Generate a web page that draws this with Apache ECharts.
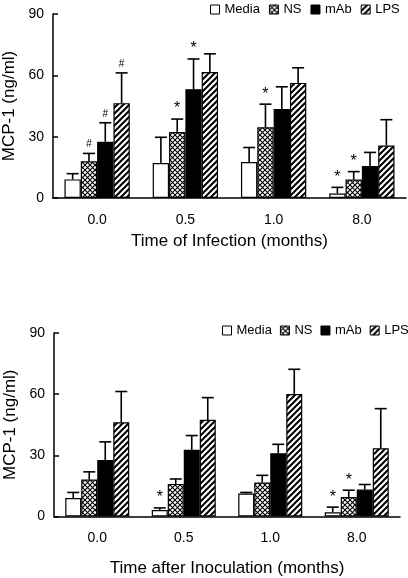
<!DOCTYPE html>
<html><head><meta charset="utf-8">
<script src="https://cdn.jsdelivr.net/npm/echarts@6/dist/echarts.min.js"></script>
<style>html,body{margin:0;padding:0;background:#fff}#c{width:408px;height:578px}</style>
</head><body><div id="c"></div>
<script>
// ---- data ----
const categories = ['0.0', '0.5', '1.0', '8.0'];
const seriesNames = ['Media', 'NS', 'mAb', 'LPS'];
const yTickValues = [0, 30, 60, 90];
const titleTop = 'Time of Infection (months)';
const titleBottom = 'Time after Inoculation (months)';
const yTitle = 'MCP-1 (ng/ml)';

// Top panel: Time of Infection
const infMedia = [9.1, 17.1, 17.6, 2.2];
const infMediaErr = [2.8, 12.6, 7.1, 3.0];
const infMediaSig = ['', '', '', '*'];
const infNS = [18.0, 32.3, 34.6, 9.0];
const infNSErr = [3.8, 6.3, 11.3, 3.9];
const infNSSig = ['#', '*', '*', '*'];
const infMAb = [27.5, 53.2, 43.5, 15.6];
const infMAbErr = [9.3, 14.8, 10.9, 6.7];
const infMAbSig = ['#', '*', '', ''];
const infLPS = [46.4, 61.6, 56.3, 25.7];
const infLPSErr = [14.8, 8.9, 7.4, 12.6];
const infLPSSig = ['#', '', '', ''];

// Bottom panel: Time after Inoculation
const inoMedia = [9.1, 3.2, 11.3, 2.1];
const inoMediaErr = [2.7, 1.0, 0.5, 2.5];
const inoMediaSig = ['', '*', '', '*'];
const inoNS = [18.1, 16.0, 16.7, 9.6];
const inoNSErr = [3.8, 2.4, 3.5, 3.3];
const inoNSSig = ['', '', '', '*'];
const inoMAb = [27.7, 32.7, 31.0, 13.2];
const inoMAbErr = [8.9, 7.0, 4.4, 2.5];
const inoMAbSig = ['', '', '', ''];
const inoLPS = [46.2, 47.4, 60.1, 33.5];
const inoLPSErr = [15.1, 10.9, 12.1, 19.4];
const inoLPSSig = ['', '', '', ''];

// ---- styles ----
const FONT = '"Liberation Sans", Arial, Helvetica, sans-serif';
const GAP_FRAC = 0.26;

function crossHatch() {
  const s = 5, c = document.createElement('canvas');
  c.width = c.height = s;
  const g = c.getContext('2d');
  g.fillStyle = '#fff'; g.fillRect(0, 0, s, s);
  g.strokeStyle = '#000'; g.lineWidth = 1.1;
  g.beginPath();
  g.moveTo(-1, -1); g.lineTo(s + 1, s + 1);
  g.moveTo(s + 1, -1); g.lineTo(-1, s + 1);
  g.stroke();
  return c;
}
function stripes() {
  const s = 6, c = document.createElement('canvas');
  c.width = c.height = s;
  const g = c.getContext('2d');
  g.fillStyle = '#fff'; g.fillRect(0, 0, s, s);
  g.strokeStyle = '#000'; g.lineWidth = 2;
  g.beginPath();
  g.moveTo(-1, s + 1); g.lineTo(s + 1, -1);
  g.moveTo(-1, 1); g.lineTo(1, -1);
  g.moveTo(s - 1, s + 1); g.lineTo(s + 1, s - 1);
  g.stroke();
  return c;
}
const fills = [
  '#ffffff',
  { image: crossHatch(), repeat: 'repeat' },
  '#000000',
  { image: stripes(), repeat: 'repeat' }
];

function barSeries(gi, k, vals) {
  return {
    type: 'bar', name: seriesNames[k], xAxisIndex: gi, yAxisIndex: gi,
    data: vals, barGap: 0, barCategoryGap: (GAP_FRAC * 100) + '%',
    itemStyle: { color: fills[k], borderColor: '#000', borderWidth: 1.2 },
    z: 2
  };
}
function errSeries(gi, k, vals, errs, marks) {
  return {
    type: 'custom', xAxisIndex: gi, yAxisIndex: gi, z: 3,
    data: vals.map((v, i) => [i, v, errs[i]]),
    renderItem: function (params, api) {
      const cat = api.value(0), v = api.value(1), e = api.value(2);
      const base = api.coord([cat, v]);
      const top = api.coord([cat, v + e]);
      const band = api.size([1, 0])[0];
      const gw = band * (1 - GAP_FRAC);
      const bw = gw / 4;
      const x = base[0] - gw / 2 + bw * (k + 0.5);
      const children = [
        { type: 'line', shape: { x1: x, y1: base[1], x2: x, y2: top[1] }, style: { stroke: '#000', lineWidth: 1.6 } },
        { type: 'line', shape: { x1: x - 6, y1: top[1], x2: x + 6, y2: top[1] }, style: { stroke: '#000', lineWidth: 1.6 } }
      ];
      const m = marks[params.dataIndex];
      if (m) {
        const star = m === '*';
        children.push({
          type: 'text',
          style: {
            text: m, x: x, y: top[1] - (star ? 2 : 4),
            align: 'center', verticalAlign: 'bottom',
            fontSize: star ? 16 : 10, fontFamily: FONT, fill: '#000'
          }
        });
      }
      return { type: 'group', children: children };
    }
  };
}

function yAxis(gi) {
  return {
    gridIndex: gi, type: 'value', min: 0, max: 90, interval: 30,
    name: yTitle, nameLocation: 'middle', nameRotate: 90, nameGap: 35,
    nameTextStyle: { fontSize: 17, fontFamily: FONT, color: '#000' },
    axisLine: { show: true, lineStyle: { color: '#000', width: 1.5 } },
    axisTick: { show: true, inside: true, length: 5, lineStyle: { color: '#000', width: 1.5 } },
    axisLabel: { fontSize: 14, fontFamily: FONT, color: '#000', margin: 9,
      formatter: v => yTickValues.includes(v) ? String(v) : '' },
    splitLine: { show: false }
  };
}
function xAxis(gi, title, gap) {
  return {
    gridIndex: gi, type: 'category', data: categories,
    name: title, nameLocation: 'middle', nameGap: gap,
    nameTextStyle: { fontSize: 17, fontFamily: FONT, color: '#000' },
    axisLine: { show: true, lineStyle: { color: '#000', width: 1.5 } },
    axisTick: { show: false },
    axisLabel: { fontSize: 14, fontFamily: FONT, color: '#000', margin: 15 }
  };
}
function legend(left, top, gap) {
  return {
    left: left, top: top, width: 300, orient: 'horizontal', icon: 'rect', padding: 0,
    itemWidth: 9, itemHeight: 9, itemGap: gap,
    textStyle: { fontSize: 13, fontFamily: FONT, color: '#000' },
    itemStyle: { borderColor: '#000', borderWidth: 1 },
    data: seriesNames, selectedMode: false
  };
}

const chart = echarts.init(document.getElementById('c'), null, { renderer: 'canvas' });
chart.setOption({
  animation: false,
  backgroundColor: '#fff',
  legend: [legend(210, 3, 9), legend(222, 324, 8)],
  grid: [
    { left: 53, right: 2, top: 14, height: 184, outerBoundsMode: 'none', containLabel: false },
    { left: 54, right: 8, top: 333, height: 183.5, outerBoundsMode: 'none', containLabel: false }
  ],
  xAxis: [xAxis(0, titleTop, 35), xAxis(1, titleBottom, 43)],
  yAxis: [yAxis(0), yAxis(1)],
  series: [
    barSeries(0, 0, infMedia), barSeries(0, 1, infNS), barSeries(0, 2, infMAb), barSeries(0, 3, infLPS),
    errSeries(0, 0, infMedia, infMediaErr, infMediaSig),
    errSeries(0, 1, infNS, infNSErr, infNSSig),
    errSeries(0, 2, infMAb, infMAbErr, infMAbSig),
    errSeries(0, 3, infLPS, infLPSErr, infLPSSig),
    barSeries(1, 0, inoMedia), barSeries(1, 1, inoNS), barSeries(1, 2, inoMAb), barSeries(1, 3, inoLPS),
    errSeries(1, 0, inoMedia, inoMediaErr, inoMediaSig),
    errSeries(1, 1, inoNS, inoNSErr, inoNSSig),
    errSeries(1, 2, inoMAb, inoMAbErr, inoMAbSig),
    errSeries(1, 3, inoLPS, inoLPSErr, inoLPSSig)
  ]
});
</script>
</body></html>
